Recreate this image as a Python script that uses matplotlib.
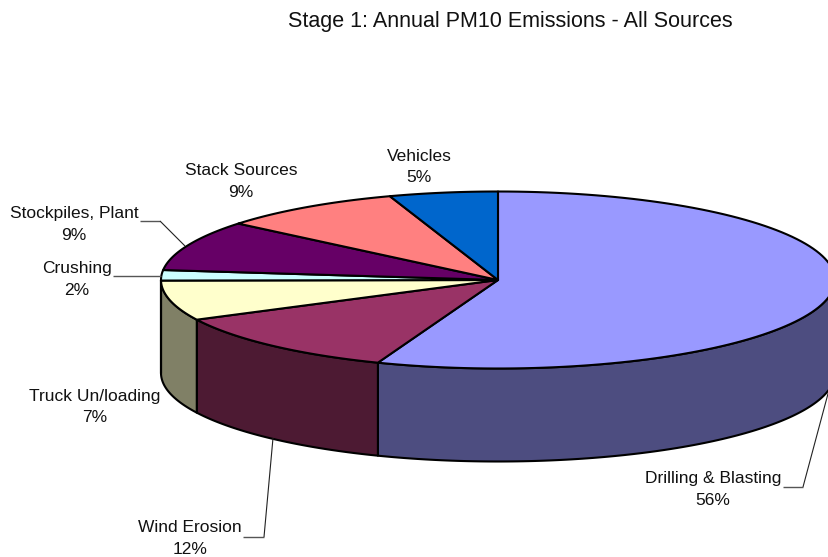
import numpy as np
import matplotlib
matplotlib.use("Agg")
import matplotlib.pyplot as plt
from matplotlib.patches import Polygon

plt.rcParams['font.family'] = ['Liberation Sans', 'DejaVu Sans']

# clockwise from 12 o'clock, shares
names = ['Drilling & Blasting', 'Wind Erosion', 'Truck Un/loading', 'Crushing',
         'Stockpiles, Plant', 'Stack Sources', 'Vehicles']
shares = [55.8, 11.8, 7.3, 1.9, 9.2, 8.8, 5.2]
top_colors = ['#9999FF', '#993366', '#FFFFCC', '#CCFFFF', '#660066', '#FF8080', '#0066CC']
side_colors = ['#4D4D80', '#4D1A33', '#808066', '#668080', '#330033', '#804040', '#003366']

# label centre positions in pixels
label_x = [713, 190, 95, 77, 74, 241, 419]
label_y = [489.5, 538.5, 407, 279.5, 224.5, 181.5, 167]

# leader lines, pixels
leaders = [
    ([783, 803, 829], [487, 487, 390]),
    ([243, 264, 273], [537, 537, 438]),
    ([140, 160, 185], [221, 221, 246]),
    ([113, 161], [276, 276]),
]

title = 'Stage 1: Annual PM10 Emissions - All Sources'

cx, cy = 498, 280
rx, ry = 337, 88.5
depth = 93

fig = plt.figure(figsize=(8.29, 5.57), dpi=100)
ax = fig.add_axes([0, 0, 1, 1])
ax.set_xlim(0, 829)
ax.set_ylim(557, 0)
ax.axis('off')


def rim(a0, a1, off=0):
    t = np.linspace(a0, a1, 120)
    return np.column_stack([cx + rx * np.sin(t), cy - ry * np.cos(t) + off])


edges = np.cumsum([0] + shares) / sum(shares) * 2 * np.pi

# side wall first, only the front half of the rim shows
for i in range(len(shares)):
    a0 = max(edges[i], np.pi / 2)
    a1 = min(edges[i + 1], 3 * np.pi / 2)
    if a1 <= a0:
        continue
    pts = np.vstack([rim(a0, a1), rim(a0, a1, depth)[::-1]])
    ax.add_patch(Polygon(pts, closed=True, fc=side_colors[i], ec='black', lw=1.5, joinstyle='round'))

# top face
for i in range(len(shares)):
    pts = np.vstack([[cx, cy], rim(edges[i], edges[i + 1])])
    ax.add_patch(Polygon(pts, closed=True, fc=top_colors[i], ec='black', lw=1.5, joinstyle='round'))

for xs, ys in leaders:
    ax.plot(xs[:2], ys[:2], color='#555555', lw=1.0, solid_capstyle='butt')
    ax.plot(xs[1:], ys[1:], color='#222222', lw=0.8, solid_capstyle='butt')

for i in range(len(shares)):
    ax.text(label_x[i], label_y[i], '%s\n%.0f%%' % (names[i], shares[i]), ha='center', va='center',
            fontsize=12.5, color='#111111', linespacing=1.55)

ax.text(510.5, 21, title, ha='center', va='center', fontsize=15.5, color='#111111')

fig.savefig('out.png', dpi=100)
